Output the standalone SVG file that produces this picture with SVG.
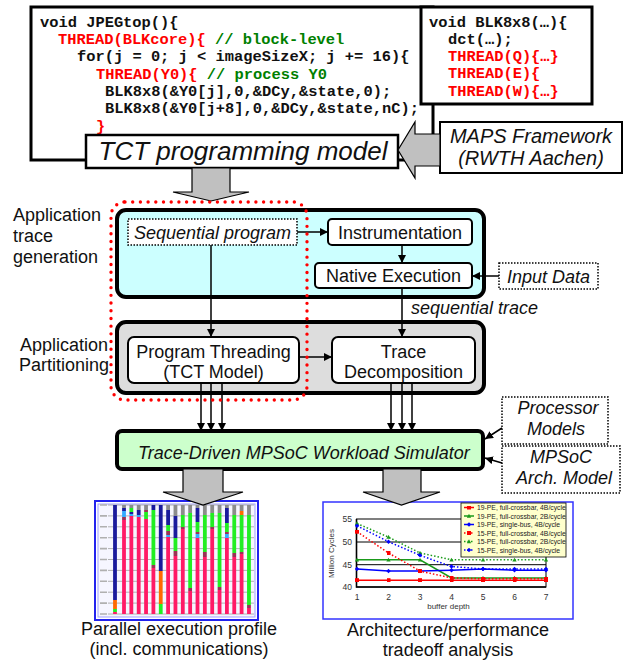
<svg xmlns="http://www.w3.org/2000/svg" width="630" height="661" viewBox="0 0 630 661">
<defs>
<style>
.code{font-family:"Liberation Mono","Courier New",monospace;font-weight:bold;font-size:15.4px;fill:#111}
.red{fill:#ff0000}
.grn{fill:#008000}
.lbl{font-family:"Liberation Sans",Arial,sans-serif;font-size:18px;fill:#111}
.it{font-style:italic}
.mid{text-anchor:middle}
.box{fill:#fff;stroke:#000;stroke-width:2}
.dot{fill:#fff;stroke:#000;stroke-width:1.5;stroke-dasharray:1.5 1.5}
.garrow{fill:#c0c0c0;stroke:#000;stroke-width:1.2}
.conn{stroke:#000;stroke-width:1.5;fill:none}
.ax{font-family:"Liberation Sans",Arial,sans-serif;font-size:8.5px;fill:#333}
.leg{font-family:"Liberation Sans",Arial,sans-serif;font-size:6.8px;fill:#222}
.cB{fill:#1a1a9c}.cP{fill:#ff1a66}.cG{fill:#22ee22}.cO{fill:#ff6a00}.cC{fill:#33aaff}.cY{fill:#8c8c8c}.cR{fill:#993355}
.grid{stroke:#a0a0a0;stroke-width:0.8}
.tick{stroke:#b0b0b0;stroke-width:1.6}
.sR{stroke:#ff0000;stroke-width:1.5;fill:none}
.sG{stroke:#1a9a1a;stroke-width:1.5;fill:none}
.sB{stroke:#0000ff;stroke-width:1.5;fill:none}
.dsh{stroke-dasharray:1.5 2}
</style>
<marker id="ah" viewBox="0 0 10 10" refX="10" refY="5" markerWidth="8" markerHeight="8" markerUnits="userSpaceOnUse" orient="auto"><path d="M0,0 L10,5 L0,10 z" fill="#000"/></marker>
<marker id="mR" viewBox="-2 -2 4 4" markerWidth="4" markerHeight="4" markerUnits="userSpaceOnUse"><rect x="-2" y="-2" width="4" height="4" fill="#ff0000"/></marker>
<marker id="mG" viewBox="-3 -3 6 6" markerWidth="5" markerHeight="5" markerUnits="userSpaceOnUse"><path d="M0,-2.6 L2.6,2 L-2.6,2 Z" fill="#1a9a1a"/></marker>
<marker id="mB" viewBox="-3 -3 6 6" markerWidth="5" markerHeight="5" markerUnits="userSpaceOnUse"><path d="M0,-2.7 L2.7,0 L0,2.7 L-2.7,0 Z" fill="#0000ff"/></marker>
</defs>
<rect width="630" height="661" fill="#fff"/>

<g id="code-jpegtop">
<rect x="31" y="7" width="402" height="153" fill="#fff" stroke="#000" stroke-width="3"/>
<text class="code" x="40" y="26.5">void JPEGtop(){</text>
<text class="code" x="58" y="44"><tspan class="red">THREAD(BLKcore){</tspan><tspan class="grn"> // block-level</tspan></text>
<text class="code" x="77" y="61.3">for(j = 0; j &lt; imageSizeX; j += 16){</text>
<text class="code" x="96" y="78.7"><tspan class="red">THREAD(Y0){</tspan><tspan class="grn"> // process Y0</tspan></text>
<text class="code" x="105" y="96">BLK8x8(&amp;Y0[j],0,&amp;DCy,&amp;state,0);</text>
<text class="code" x="105" y="113.4">BLK8x8(&amp;Y0[j+8],0,&amp;DCy,&amp;state,nC);</text>
<text class="code red" x="96" y="130.8">}</text>
</g>

<g id="code-blk8x8">
<rect x="421" y="7" width="171" height="97" fill="#fff" stroke="#000" stroke-width="3"/>
<text class="code" x="429" y="26.5">void BLK8x8(…){</text>
<text class="code" x="448" y="43.7">dct(…);</text>
<text class="code red" x="448" y="61">THREAD(Q){…}</text>
<text class="code red" x="448" y="78.4">THREAD(E){</text>
<text class="code red" x="448" y="95.7">THREAD(W){…}</text>
</g>

<g id="tct-model">
<rect x="86" y="135" width="312" height="33" fill="#fff" stroke="#000" stroke-width="2.5"/>
<text class="lbl it mid" x="243" y="160" style="font-size:26px">TCT programming model</text>
</g>

<g id="maps-framework">
<rect x="440" y="122" width="182" height="51" fill="#fff" stroke="#000" stroke-width="2"/>
<text class="lbl it mid" x="531" y="143" style="font-size:20px">MAPS Framework</text>
<text class="lbl it mid" x="531" y="165" style="font-size:20px">(RWTH Aachen)</text>
</g>

<g id="stage-labels">
<text class="lbl" x="13" y="221">Application</text>
<text class="lbl" x="13" y="242">trace</text>
<text class="lbl" x="13" y="263">generation</text>
<text class="lbl" x="20" y="351">Application</text>
<text class="lbl" x="19" y="371">Partitioning</text>
</g>

<g id="trace-generation">
<rect x="117" y="210" width="367" height="87" rx="9" fill="#ccffff" stroke="#000" stroke-width="4"/>
</g>
<g id="partitioning">
<rect x="117" y="322" width="367" height="71" rx="9" fill="#dddddd" stroke="#000" stroke-width="4"/>
</g>

<g id="sequential-program">
<rect class="dot" x="128" y="219" width="169" height="26"/>
<text class="lbl it mid" x="212.5" y="238.5">Sequential program</text>
</g>
<g id="instrumentation">
<rect class="box" x="328" y="219" width="144" height="26" rx="4"/>
<text class="lbl mid" x="400" y="238.5">Instrumentation</text>
</g>
<g id="native-execution">
<rect class="box" x="315" y="263" width="157" height="25" rx="4"/>
<text class="lbl mid" x="393.5" y="282">Native Execution</text>
</g>
<g id="input-data">
<rect class="dot" x="499" y="263" width="99" height="26"/>
<text class="lbl it mid" x="548.5" y="282.5">Input Data</text>
</g>
<g id="program-threading">
<rect class="box" x="128" y="337" width="171" height="46" rx="6"/>
<text class="lbl mid" x="213.5" y="357.5">Program Threading</text>
<text class="lbl mid" x="213.5" y="377.5">(TCT Model)</text>
</g>
<g id="trace-decomposition">
<rect class="box" x="332" y="337" width="143" height="46" rx="6"/>
<text class="lbl mid" x="403.5" y="357.5">Trace</text>
<text class="lbl mid" x="403.5" y="377.5">Decomposition</text>
</g>

<g id="simulator">
<rect x="117" y="431" width="366" height="38" rx="5" fill="#ccffcc" stroke="#000" stroke-width="4"/>
<text class="lbl it mid" x="304" y="458.5">Trace-Driven MPSoC Workload Simulator</text>
</g>
<g id="processor-models">
<rect class="dot" x="502" y="397" width="106" height="47"/>
<text class="lbl it mid" x="558" y="414">Processor</text>
<text class="lbl it mid" x="556" y="435">Models</text>
</g>
<g id="mpsoc-arch-model">
<rect class="dot" x="502" y="446" width="118" height="47"/>
<text class="lbl it mid" x="561" y="462.5">MPSoC</text>
<text class="lbl it mid" x="564" y="483.5">Arch. Model</text>
</g>

<g id="parallel-profile">
<rect x="95" y="501" width="163" height="119" fill="#fff" stroke="#2222ee" stroke-width="2"/>
<rect x="98" y="504" width="157" height="113" fill="#f6f6ff" stroke="#a0a0ff" stroke-width="1"/>
<g>
<line class="grid" x1="108" y1="505" x2="254" y2="505"/>
<line class="grid" x1="108" y1="515.9" x2="254" y2="515.9"/>
<line class="grid" x1="108" y1="526.8" x2="254" y2="526.8"/>
<line class="grid" x1="108" y1="537.7" x2="254" y2="537.7"/>
<line class="grid" x1="108" y1="548.6" x2="254" y2="548.6"/>
<line class="grid" x1="108" y1="559.5" x2="254" y2="559.5"/>
<line class="grid" x1="108" y1="570.4" x2="254" y2="570.4"/>
<line class="grid" x1="108" y1="581.3" x2="254" y2="581.3"/>
<line class="grid" x1="108" y1="592.2" x2="254" y2="592.2"/>
<line class="grid" x1="108" y1="603.1" x2="254" y2="603.1"/>
<line class="grid" x1="108" y1="614" x2="254" y2="614"/>
<path class="tick" d="M100,505h7M100,515.9h7M100,526.8h7M100,537.7h7M100,548.6h7M100,559.5h7M100,570.4h7M100,581.3h7M100,592.2h7M100,603.1h7M100,614h7"/>
</g>
<g>
<rect class="cB" x="113.1" y="505" width="3.8" height="95"/><rect class="cO" x="113.1" y="600" width="3.8" height="9"/><rect class="cG" x="113.1" y="609" width="3.8" height="3"/><rect class="cP" x="113.1" y="612" width="3.8" height="2"/>
<rect class="cY" x="122.1" y="505" width="3.8" height="3"/><rect class="cB" x="122.1" y="508" width="3.8" height="3"/><rect class="cC" x="122.1" y="511" width="3.8" height="6"/><rect class="cR" x="122.1" y="517" width="3.8" height="3"/><rect class="cP" x="122.1" y="520" width="3.8" height="94"/>
<rect class="cY" x="129.45" y="505" width="3.8" height="3"/><rect class="cG" x="129.45" y="508" width="3.8" height="4"/><rect class="cB" x="129.45" y="512" width="3.8" height="2"/><rect class="cC" x="129.45" y="514" width="3.8" height="2"/><rect class="cP" x="129.45" y="516" width="3.8" height="98"/>
<rect class="cY" x="136.8" y="505" width="3.8" height="5"/><rect class="cB" x="136.8" y="510" width="3.8" height="5"/><rect class="cC" x="136.8" y="515" width="3.8" height="2"/><rect class="cP" x="136.8" y="517" width="3.8" height="97"/>
<rect class="cY" x="144.15" y="505" width="3.8" height="5"/><rect class="cR" x="144.15" y="510" width="3.8" height="2"/><rect class="cG" x="144.15" y="512" width="3.8" height="7"/><rect class="cP" x="144.15" y="519" width="3.8" height="95"/>
<rect class="cB" x="151.5" y="505" width="3.8" height="5"/><rect class="cG" x="151.5" y="510" width="3.8" height="55"/><rect class="cR" x="151.5" y="565" width="3.8" height="3"/><rect class="cP" x="151.5" y="568" width="3.8" height="46"/>
<rect class="cB" x="158.85" y="505" width="3.8" height="66"/><rect class="cO" x="158.85" y="571" width="3.8" height="33"/><rect class="cG" x="158.85" y="604" width="3.8" height="10"/>
<rect class="cY" x="166.2" y="505" width="3.8" height="5"/><rect class="cB" x="166.2" y="510" width="3.8" height="15"/><rect class="cG" x="166.2" y="525" width="3.8" height="6"/><rect class="cR" x="166.2" y="531" width="3.8" height="4"/><rect class="cC" x="166.2" y="535" width="3.8" height="2"/><rect class="cP" x="166.2" y="537" width="3.8" height="77"/>
<rect class="cY" x="173.55" y="505" width="3.8" height="11"/><rect class="cB" x="173.55" y="516" width="3.8" height="22"/><rect class="cG" x="173.55" y="538" width="3.8" height="13"/><rect class="cR" x="173.55" y="551" width="3.8" height="5"/><rect class="cP" x="173.55" y="556" width="3.8" height="58"/>
<rect class="cY" x="180.9" y="505" width="3.8" height="10"/><rect class="cG" x="180.9" y="515" width="3.8" height="12"/><rect class="cR" x="180.9" y="527" width="3.8" height="2"/><rect class="cP" x="180.9" y="529" width="3.8" height="85"/>
<rect class="cY" x="188.25" y="505" width="3.8" height="8"/><rect class="cG" x="188.25" y="513" width="3.8" height="75"/><rect class="cR" x="188.25" y="588" width="3.8" height="3"/><rect class="cP" x="188.25" y="591" width="3.8" height="23"/>
<rect class="cY" x="195.6" y="505" width="3.8" height="3"/><rect class="cB" x="195.6" y="508" width="3.8" height="14"/><rect class="cG" x="195.6" y="522" width="3.8" height="10"/><rect class="cR" x="195.6" y="532" width="3.8" height="2"/><rect class="cC" x="195.6" y="534" width="3.8" height="4"/><rect class="cP" x="195.6" y="538" width="3.8" height="76"/>
<rect class="cY" x="202.95" y="505" width="3.8" height="10"/><rect class="cG" x="202.95" y="515" width="3.8" height="37"/><rect class="cR" x="202.95" y="552" width="3.8" height="5"/><rect class="cP" x="202.95" y="557" width="3.8" height="57"/>
<rect class="cY" x="210.3" y="505" width="3.8" height="8"/><rect class="cG" x="210.3" y="513" width="3.8" height="14"/><rect class="cR" x="210.3" y="527" width="3.8" height="2"/><rect class="cP" x="210.3" y="529" width="3.8" height="85"/>
<rect class="cY" x="217.65" y="505" width="3.8" height="8"/><rect class="cG" x="217.65" y="513" width="3.8" height="74"/><rect class="cR" x="217.65" y="587" width="3.8" height="3"/><rect class="cP" x="217.65" y="590" width="3.8" height="24"/>
<rect class="cY" x="225" y="505" width="3.8" height="3"/><rect class="cB" x="225" y="508" width="3.8" height="15"/><rect class="cG" x="225" y="523" width="3.8" height="9"/><rect class="cR" x="225" y="532" width="3.8" height="2"/><rect class="cC" x="225" y="534" width="3.8" height="4"/><rect class="cP" x="225" y="538" width="3.8" height="76"/>
<rect class="cY" x="232.35" y="505" width="3.8" height="10"/><rect class="cG" x="232.35" y="515" width="3.8" height="38"/><rect class="cR" x="232.35" y="553" width="3.8" height="4"/><rect class="cP" x="232.35" y="557" width="3.8" height="57"/>
<rect class="cY" x="239.7" y="505" width="3.8" height="6"/><rect class="cO" x="239.7" y="511" width="3.8" height="4"/><rect class="cG" x="239.7" y="515" width="3.8" height="37"/><rect class="cR" x="239.7" y="552" width="3.8" height="2"/><rect class="cP" x="239.7" y="554" width="3.8" height="60"/>
<rect class="cY" x="247.05" y="505" width="3.8" height="10"/><rect class="cG" x="247.05" y="515" width="3.8" height="90"/><rect class="cR" x="247.05" y="605" width="3.8" height="3"/><rect class="cP" x="247.05" y="608" width="3.8" height="6"/>
</g>
<text class="lbl mid" x="179" y="635">Parallel execution profile</text>
<text class="lbl mid" x="179" y="655">(incl. communications)</text>
</g>

<g id="tradeoff-chart">
<rect x="323" y="502" width="250" height="117" fill="#fff" stroke="#3333ff" stroke-width="1.5"/>
<line x1="356.5" y1="542" x2="546" y2="542" stroke="#000" stroke-width="1"/>
<line x1="356.5" y1="564.7" x2="546" y2="564.7" stroke="#000" stroke-width="1"/>
<rect x="356.5" y="519" width="189.5" height="68" fill="none" stroke="#000" stroke-width="1"/>
<path d="M356.5,519V587H546" fill="none" stroke="#000" stroke-width="1.6"/>
<text class="ax" x="352" y="522" text-anchor="end">55</text>
<text class="ax" x="352" y="545" text-anchor="end">50</text>
<text class="ax" x="352" y="568" text-anchor="end">45</text>
<text class="ax" x="352" y="590" text-anchor="end">40</text>
<text class="ax mid" x="357" y="599.5">1</text>
<text class="ax mid" x="388.5" y="599.5">2</text>
<text class="ax mid" x="420" y="599.5">3</text>
<text class="ax mid" x="451.5" y="599.5">4</text>
<text class="ax mid" x="483" y="599.5">5</text>
<text class="ax mid" x="514.5" y="599.5">6</text>
<text class="ax mid" x="546" y="599.5">7</text>
<text class="ax mid" x="448.5" y="609" style="font-size:8px">buffer depth</text>
<text class="ax mid" transform="translate(334,553.5) rotate(-90)" style="font-size:8px">Million Cycles</text>
<polyline class="sR" marker-start="url(#mR)" marker-mid="url(#mR)" marker-end="url(#mR)" points="357,580.2 388.5,580.2 420,580.2 451.5,580.2 483,580.2 514.5,580.2 546,580.2"/>
<polyline class="sG" marker-start="url(#mG)" marker-mid="url(#mG)" marker-end="url(#mG)" points="357,559.8 388.5,559.8 420,559.8 451.5,577.9 483,577.9 514.5,577.9 546,577.9"/>
<polyline class="sB" marker-start="url(#mB)" marker-mid="url(#mB)" marker-end="url(#mB)" points="357,568.9 388.5,571.1 420,571.1 451.5,570.2 483,568.9 514.5,570.2 546,570.2"/>
<polyline class="sR dsh" marker-start="url(#mR)" marker-mid="url(#mR)" marker-end="url(#mR)" points="357,531.7 388.5,553 420,571.1 451.5,577.9 483,578.8 514.5,578.8 546,578.8"/>
<polyline class="sG dsh" marker-start="url(#mG)" marker-mid="url(#mG)" marker-end="url(#mG)" points="357,523.5 388.5,537.1 420,553 451.5,559.8 483,559.8 514.5,559.8 546,559.8"/>
<polyline class="sB dsh" marker-start="url(#mB)" marker-mid="url(#mB)" marker-end="url(#mB)" points="357,525.8 388.5,541.7 420,555.3 451.5,566.6 483,568.9 514.5,568.9 546,568.9"/>
<g id="legend">
<rect x="461" y="503" width="105" height="54" fill="#ffffcc" stroke="#000" stroke-width="0.8"/>
<path class="sR" marker-mid="url(#mR)" d="M464,507.5 L469,507.5 L474,507.5"/>
<path class="sG" marker-mid="url(#mG)" d="M464,516 L469,516 L474,516"/>
<path class="sB" marker-mid="url(#mB)" d="M464,524.5 L469,524.5 L474,524.5"/>
<path class="sR dsh" marker-mid="url(#mR)" d="M464,533 L469,533 L474,533"/>
<path class="sG dsh" marker-mid="url(#mG)" d="M464,541.5 L469,541.5 L474,541.5"/>
<path class="sB dsh" marker-mid="url(#mB)" d="M464,550 L469,550 L474,550"/>
<text class="leg" x="477" y="510">19-PE, full-crossbar, 4B/cycle</text>
<text class="leg" x="477" y="518.5">19-PE, full-crossbar, 2B/cycle</text>
<text class="leg" x="477" y="527">19-PE, single-bus, 4B/cycle</text>
<text class="leg" x="477" y="535.5">15-PE, full-crossbar, 4B/cycle</text>
<text class="leg" x="477" y="544">15-PE, full-crossbar, 2B/cycle</text>
<text class="leg" x="477" y="552.5">15-PE, single-bus, 4B/cycle</text>
</g>
<text class="lbl mid" x="448" y="636">Architecture/performance</text>
<text class="lbl mid" x="448" y="656">tradeoff analysis</text>
</g>

<g id="connectors">
<path class="garrow" d="M398,150 L415,122 L415,134 L440,134 L440,166 L415,166 L415,178 Z"/>
<path class="garrow" d="M192,168 L230,168 L230,192 L249,192 L211,201 L173,192 L192,192 Z"/>
<path class="garrow" d="M183,469 L223,469 L223,492 L243,492 L203,505 L163,492 L183,492 Z"/>
<path class="garrow" d="M383,469 L421,469 L421,492 L440,492 L401.5,505 L363,492 L383,492 Z"/>
<line class="conn" x1="297" y1="232" x2="328" y2="232" marker-end="url(#ah)"/>
<line class="conn" x1="402" y1="245" x2="402" y2="263" marker-end="url(#ah)"/>
<line class="conn" x1="499" y1="276" x2="472" y2="276" marker-end="url(#ah)"/>
<line class="conn" x1="211" y1="245" x2="211" y2="337" marker-end="url(#ah)"/>
<line class="conn" x1="402" y1="288" x2="402" y2="337" marker-end="url(#ah)"/>
<line class="conn" x1="299" y1="357" x2="332" y2="357" marker-end="url(#ah)"/>
<line class="conn" x1="201" y1="383" x2="201" y2="431" marker-end="url(#ah)"/>
<line class="conn" x1="211" y1="383" x2="211" y2="431" marker-end="url(#ah)"/>
<line class="conn" x1="222" y1="383" x2="222" y2="431" marker-end="url(#ah)"/>
<line class="conn" x1="391" y1="383" x2="391" y2="431" marker-end="url(#ah)"/>
<line class="conn" x1="402" y1="383" x2="402" y2="431" marker-end="url(#ah)"/>
<line class="conn" x1="412" y1="383" x2="412" y2="431" marker-end="url(#ah)"/>
<line class="conn" x1="502" y1="428" x2="485" y2="439" marker-end="url(#ah)"/>
<line class="conn" x1="502" y1="463" x2="485" y2="458" marker-end="url(#ah)"/>
<text class="lbl it" x="411" y="314">sequential trace</text>
</g>

<g id="tct-region">
<rect x="111" y="202" width="196" height="198" rx="14" fill="none" stroke="#ff0000" stroke-width="3.4" stroke-dasharray="0 7.7" stroke-linecap="round"/>
</g>
</svg>
